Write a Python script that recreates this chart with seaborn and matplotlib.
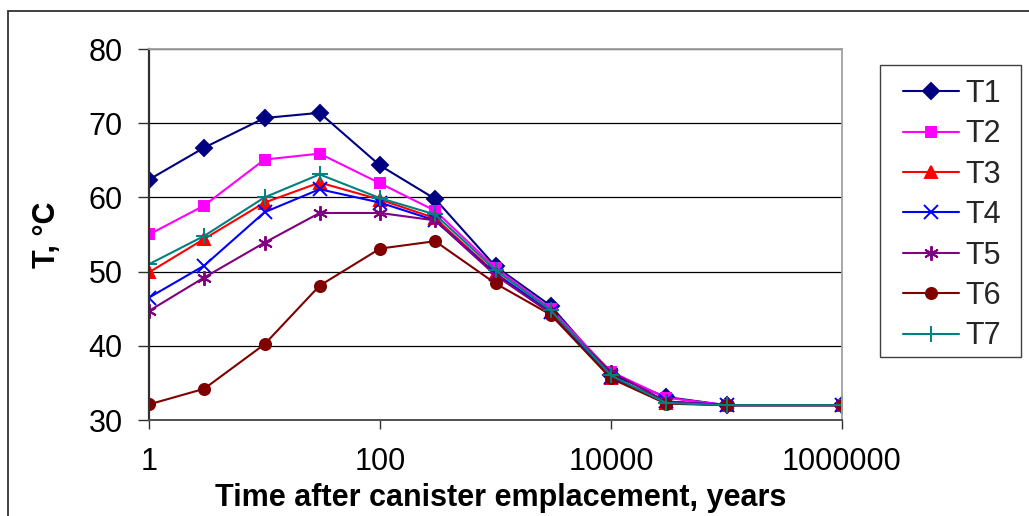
import numpy as np
import pandas as pd
import matplotlib
matplotlib.use("Agg")
import matplotlib.pyplot as plt
import seaborn as sns
from matplotlib.patches import Rectangle
from matplotlib.ticker import FixedLocator, FixedFormatter, NullLocator

# ---- data ----
years = [1, 3, 10, 30, 100, 300, 1000, 3000, 10000, 30000, 100000, 1000000]
T1 = [62.4, 66.7, 70.7, 71.4, 64.3, 59.8, 50.7, 45.4, 36.1, 33.1, 32.0, 32.0]
T2 = [55.0, 58.9, 65.1, 65.9, 61.9, 58.2, 50.5, 45.0, 36.5, 33.0, 32.0, 32.0]
T3 = [49.9, 54.4, 59.3, 62.0, 59.7, 57.2, 49.8, 44.5, 35.7, 32.3, 32.0, 32.0]
T4 = [46.5, 50.8, 58.0, 61.1, 59.3, 56.9, 49.7, 44.6, 35.8, 32.5, 32.0, 32.0]
T5 = [44.7, 49.2, 53.9, 57.9, 57.9, 56.9, 49.5, 44.4, 36.5, 32.5, 32.0, 32.0]
T6 = [32.1, 34.2, 40.2, 48.1, 53.1, 54.1, 48.4, 44.2, 35.6, 32.2, 32.0, 32.0]
T7 = [51.0, 54.8, 60.0, 63.1, 59.9, 57.7, 50.2, 44.8, 36.0, 32.3, 32.0, 32.0]
series_names = ["T1", "T2", "T3", "T4", "T5", "T6", "T7"]
series_values = [T1, T2, T3, T4, T5, T6, T7]
x_ticks = [1, 100, 10000, 1000000]
x_tick_labels = ["1", "100", "10000", "1000000"]
y_ticks = [30, 40, 50, 60, 70, 80]

# ---- style ----
colors = ["#000080", "#FF00FF", "#FF0000", "#0000FF", "#800080", "#800000", "#008080"]
markers = ["D", "s", "^", "x", (6, 2, 0), "o", "+"]
msizes = [8.5, 7.8, 9, 9.5, 10.5, 8, 11.5]

sns.set_theme(style="white")
plt.rcParams["font.family"] = ["Liberation Sans", "DejaVu Sans"]

W, H = 1029, 516
fig = plt.figure(figsize=(W / 100, H / 100), dpi=100)
ax = fig.add_axes([149 / W, 1 - 420 / H, (842 - 149) / W, (420 - 49) / H])

df = pd.DataFrame({"years": np.tile(years, len(series_names)),
                   "T": np.concatenate(series_values),
                   "series": np.repeat(series_names, len(years))})

for name, c, m, ms in zip(series_names, colors, markers, msizes):
    sub = df[df["series"] == name]
    sns.lineplot(data=sub, x="years", y="T", ax=ax, color=c, marker=m,
                 markersize=ms, markeredgecolor=c, markerfacecolor=c,
                 markeredgewidth=1.4, linewidth=1.5, label=name,
                 estimator=None, sort=False)

ax.set_xscale("log")
ax.set_xlim(1, 1000000)
ax.set_ylim(30, 80)
ax.xaxis.set_major_locator(FixedLocator(x_ticks))
ax.xaxis.set_major_formatter(FixedFormatter(x_tick_labels))
ax.xaxis.set_minor_locator(NullLocator())
ax.set_yticks(y_ticks)

ax.grid(False)
ax.yaxis.grid(True, color="black", linewidth=0.9)
ax.set_axisbelow(True)

for s in ["top", "right"]:
    ax.spines[s].set_color("#A0A0A0")
    ax.spines[s].set_linewidth(1.3)
ax.spines["left"].set_color("#303030")
ax.spines["left"].set_linewidth(1.6)
ax.spines["bottom"].set_color("#505050")
ax.spines["bottom"].set_linewidth(1.4)

ax.tick_params(axis="y", which="major", direction="out", length=8, width=1.0,
               color="#303030", labelsize=22, pad=11, left=True)
ax.tick_params(axis="x", which="major", direction="out", length=6.5, width=1.0,
               color="#303030", labelsize=22, pad=13, bottom=True)
for lab in ax.get_xticklabels() + ax.get_yticklabels():
    lab.set_color("black")

ax.set_xlabel("Time after canister emplacement, years", fontsize=22,
              fontweight="bold", color="black")
ax.set_ylabel("T, °C", fontsize=22, fontweight="bold", color="black")
ax.xaxis.set_label_coords(0.508, -0.171)
ax.yaxis.set_label_coords(-0.125, 0.5)

handles, labels = ax.get_legend_handles_labels()
if ax.legend_:
    ax.legend_.remove()
leg = fig.legend(handles, labels, loc="upper left",
                 bbox_to_anchor=(903 / W, 1 - 79 / H), frameon=False,
                 fontsize=22, handlelength=1.83, handletextpad=0.22,
                 labelspacing=0.34, borderpad=0, borderaxespad=0)

# legend box
fig.add_artist(Rectangle((880 / W, 1 - 357 / H), (1021 - 880) / W,
                         (357 - 65) / H, transform=fig.transFigure,
                         fill=False, edgecolor="#404040", linewidth=1.0))

# chart-area border
fig.add_artist(Rectangle((8 / W, -0.2), 1.2, 1 - 11 / H + 0.2,
                         transform=fig.transFigure, fill=False,
                         edgecolor="#303030", linewidth=1.3))

fig.savefig("out.png", dpi=100)
